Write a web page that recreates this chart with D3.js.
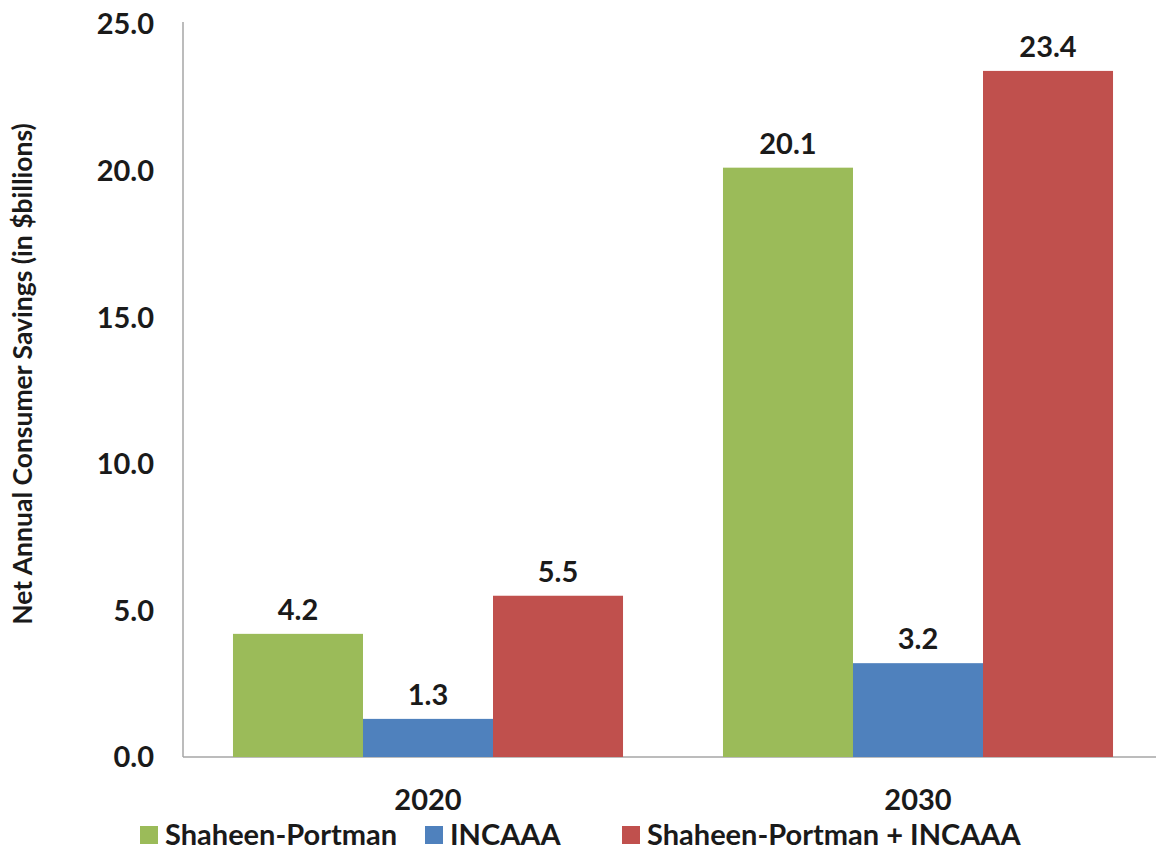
<!DOCTYPE html>
<html><head><meta charset="utf-8">
<script src="https://cdn.jsdelivr.net/npm/d3@7"></script>
<style>body{margin:0;background:#fff}svg{display:block}text{font-family:Lato,"Open Sans",sans-serif;font-weight:bold;fill:#1a1a1a}</style>
</head><body>
<script>
const categories = ["2020", "2030"];
const seriesNames = ["Shaheen-Portman", "INCAAA", "Shaheen-Portman + INCAAA"];
const shaheenPortman = [4.2, 20.1];
const incaaa = [1.3, 3.2];
const combined = [5.5, 23.4];
const yTicks = [0, 5, 10, 15, 20, 25];
const colors = ["#9BBB59", "#4F81BD", "#C0504D"];

(function () {
const W = 1156, H = 852;
const svg = d3.select("body").append("svg").attr("width", W).attr("height", H);
const pL = 183, pR = 1163, pT = 24, pB = 757;
const fs = 29;

const values = [shaheenPortman, incaaa, combined];
const y = d3.scaleLinear().domain([0, 25]).range([pB, pT]);
const x0 = d3.scaleBand().domain(categories).range([pL, pR]).paddingInner(0.204).paddingOuter(0.102);
const x1 = d3.scaleBand().domain(seriesNames).range([0, x0.bandwidth()]);

svg.append("line").attr("x1", pL).attr("x2", pL).attr("y1", pT - 2).attr("y2", pB).attr("stroke", "#a6a6a6").attr("stroke-width", 1.5);
svg.append("line").attr("x1", pL).attr("x2", W).attr("y1", pB).attr("y2", pB).attr("stroke", "#a6a6a6").attr("stroke-width", 1.5);

svg.append("g").selectAll("text").data(yTicks).join("text")
  .attr("x", 154).attr("y", d => y(d)).attr("dy", "0.36em").attr("text-anchor", "end")
  .attr("font-size", fs).text(d => d.toFixed(1));

svg.append("text").attr("transform", `translate(32,374) rotate(-90)`)
  .attr("text-anchor", "middle").attr("font-size", 26.5).text("Net Annual Consumer Savings (in $billions)");

categories.forEach((c, ci) => {
  const g = svg.append("g").attr("transform", `translate(${x0(c)},0)`);
  seriesNames.forEach((s, si) => {
    const v = values[si][ci];
    g.append("rect").attr("x", x1(s)).attr("y", y(v)).attr("width", x1.bandwidth()).attr("height", y(0) - y(v)).attr("fill", colors[si]);
    g.append("text").attr("x", x1(s) + x1.bandwidth() / 2).attr("y", y(v) - 14)
      .attr("text-anchor", "middle").attr("font-size", fs).text(v.toFixed(1));
  });
});

svg.append("g").selectAll("text").data(categories).join("text")
  .attr("x", d => x0(d) + x0.bandwidth() / 2).attr("y", 800).attr("dy", "0.36em")
  .attr("text-anchor", "middle").attr("font-size", fs).text(d => d);

const legendX = [140, 425, 622];
const lg = svg.append("g");
seriesNames.forEach((s, i) => {
  lg.append("rect").attr("x", legendX[i]).attr("y", 826).attr("width", 18).attr("height", 18).attr("fill", colors[i]);
  lg.append("text").attr("x", legendX[i] + 25).attr("y", 835).attr("dy", "0.36em").attr("font-size", fs).text(s);
});
})();
</script>
</body></html>
